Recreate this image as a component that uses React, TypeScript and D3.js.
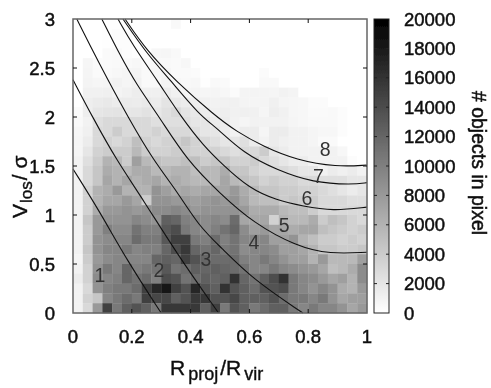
import * as d3 from 'd3';

const WIDTH = 491;
const HEIGHT = 388;
const FONT = '"Liberation Sans", sans-serif';

// objects per pixel in thousands, top row is V = 3
const counts: number[][] = [
  [0,0,0,0.1,0.1,0.1,0,0,0,0,0.5,0,0,0,0,0,0,0,0,0,0,0,0,0,0,0,0,0,0,0],
  [0,0,0,0.1,0.2,0.2,0,0,0,0,0,0,0,0,0,0,0,0,0,0,0,0,0,0,0,0,0,0,0,0],
  [0,0,0,0.1,0.2,0.2,0.1,0,0,0,0,0,0,0,0,0,0,0,0,0,0,0,0,0,0,0,0,0,0,0],
  [0,0,0,0.4,0.5,0.2,0.1,0.1,0.6,0.7,0.5,0,0,0,0,0,0,0,0,0,0,0,0,0,0,0,0,0,0,0],
  [0,0.7,0.3,0.4,0.5,0.5,0.6,0.4,0.5,0.5,0.4,0.6,0,0,0,0,0,0,0,0,0,0,0,0,0,0,0,0,0,0],
  [0,0.8,0.4,0.5,0.6,0.8,0.9,0.5,0.6,0.7,0.4,0.4,0.3,0,0,0,0,0,0,0.3,0,0,0,0,0,0,0,0,0,0],
  [0,0.9,0.7,0.8,1,0.8,1.1,0.5,0.5,0.9,0.6,0.5,0.6,0.1,0.5,0.4,0,0,0,0.5,0.5,0,0,0,0,0,0,0,0,0],
  [0,1.1,1.1,1.2,0.9,1.1,1.4,1.2,1.2,1.5,1.1,0.8,0.9,0.7,0.8,0.6,0.3,0.9,0.9,0.9,0.8,1,0.9,0,0,0,0,0,0,0],
  [0,1.3,1.6,1.7,1.5,1.6,1.5,1.7,1.5,2.1,1.7,1.5,1.3,1.1,1,1.1,1.1,0.9,0.8,0.9,1.2,0.8,0.7,0.6,0.3,0.3,0,0,0,0],
  [0.3,1.3,2,2.1,2.2,1.9,2,2.3,1.9,2.4,3,2.1,1.7,1.5,1.2,1.3,1.1,1.2,1.1,0.8,1.3,1.1,0.7,0.6,0.4,0.4,0.5,0.2,0,0],
  [0.5,1,2.5,3,3,3,3,3,2.5,2.5,2.5,2.5,2,2,1.5,1.5,1,0.8,1,1,1,1,0.8,0.6,0.5,0.5,0.5,0.2,0,0],
  [0.7,1.2,3,3,4,3,3,3,3.5,3,3,3,2.5,2,2,1.5,1,1.5,1.5,0.8,1.5,1.5,1,1,0.8,0.6,0.6,0.2,0,0],
  [0.8,1.5,3,3.5,3,3.5,5,3.5,3,3.5,3.5,4.5,3.5,3,2.5,2,2,2.5,1.5,1,1.5,1.2,1,1,0.8,0.4,0.4,0,0,0],
  [0.8,2,3.5,4,4,4,5.5,4,3.5,3.5,4,4,3.5,3.5,3.5,3,2.5,3,3,4,2,1.5,1,1,1,1,1,0.6,0,0],
  [1,2.5,4,6,5.5,4,7.5,5.5,5,4.5,4.5,5,5,4,4.5,4.5,3.5,3.5,4,3,2.5,2,1.5,1.5,1,1,1,1,0.2,0],
  [1,3,4.5,6.5,6,5.5,6.5,6.5,5.5,5.5,6,6,5,5.5,5.5,6.5,4.5,4.5,3.5,3,3,3,2.5,2,2,1,1.5,1.2,1.5,1],
  [1,3,4.5,7,6,7,6,6.5,7,6,6.5,6,5.5,5.5,5.5,7,5.5,5,4.5,3.5,4,3.5,3.5,3,3,2.5,2.5,2.5,2,2],
  [1,3.5,6,6.5,8,6,6,6,8.5,7.5,6.5,7,6.5,7,7,7,8,6.5,5.5,4.5,4.5,4,4,3.5,3.5,3,2.5,2,1.5,2],
  [1,3.5,6,7,7,8,7,4,8.5,8.5,8,8,7.5,8,8.5,8,8.5,7,5.5,5,5,4,4.5,4,4,3,3,3,2.5,2.5],
  [1,3.5,6.5,8,8,8.5,8,8.5,9,9,9.5,9,8,8.5,8.5,8.5,8.5,8,6.5,6.5,6.5,5.5,5,5,4,3,3,3,3,3],
  [1,4.5,8,8.5,8.5,8.5,9.5,9,8.5,12.5,12,10,9.5,9,9.5,9,11.5,7,7,7,3.5,6,5.5,5.5,6.5,4,5,4.5,3.5,3],
  [1,4,8,10,9,9,11,10,10,13,14,10.5,9.5,9,10,11,12,9,7.5,8,7,7,6.5,7,7,5,4.5,4,3.5,4],
  [1,4,8.5,9,9.5,9.5,11.5,10.5,10.5,13,15,15,10.5,10,11.5,10,11,9.5,9.5,9.5,7.5,7.5,8.5,6,5,4,4,3.5,4,3.5],
  [1,4.5,8.5,9.5,9.5,10.5,9.5,10,10,12,14,15.5,12,11,12,10.5,11,9,9.5,9.5,9,7.5,7.5,7,6,4.5,4.5,4,4,4.5],
  [0.8,4,8,9,9.5,9.5,9.5,9.5,12,12.5,12,15,13.5,12,11.5,11.5,11.5,10,9.5,10.5,9.5,8.5,7.5,7.5,6,8,5.5,5.5,5.5,7.5],
  [1,3.5,8.5,10.5,9.5,12,10,10.5,11,13,11,11.5,12.5,12,12.5,12,11.5,11,9.5,9.5,10.5,9.5,9,8.5,8,7,5,5.5,6.5,9],
  [1.5,3.5,9,9.5,10,12,11,11.5,10,14,13.5,11,11.5,12.5,12,12.5,16,12,11,12.5,14,16,10.5,9.5,9,8,7,7.5,6,9],
  [1,3,8.5,10,10.5,10.5,11.5,15,17,18.5,15,13.5,17,13.5,12.5,16,13.5,12.5,11.5,13.5,13.5,14,10.5,9.5,8.5,9.5,8.5,6.5,6,8],
  [1,3.5,4.5,9.5,10.5,11.5,10.5,15,14.5,14.5,12.5,13.5,15.5,15.5,13.5,13.5,14.5,12.5,12.5,12.5,13.5,11.5,10.5,10.5,9.5,10.5,8.5,7,7.5,7.5],
  [1,3,8,15,10.5,12.5,13.5,12.5,10.5,15.5,15.5,15.5,15.5,12.5,15,10.5,13.5,12.5,10.5,11.5,12.5,12.5,10.5,9.5,10.5,9.5,9.5,8.5,7,8],
];

// separation curves, R and V
const curve1R = [0, 0.092, 0.183, 0.3];
const curve1V = [1.47, 1.03, 0.54, 0];
const curve2R = [0, 0.068, 0.148, 0.24, 0.352, 0.495];
const curve2V = [2.38, 1.99, 1.56, 1.15, 0.61, 0];
const curve3R = [0.013, 0.058, 0.115, 0.187, 0.273, 0.352, 0.43, 0.5, 0.613, 0.782];
const curve3V = [3, 2.73, 2.4, 2.0, 1.56, 1.25, 0.88, 0.68, 0.34, 0];
const curve4R = [0.098, 0.16, 0.216, 0.296, 0.387, 0.5, 0.613, 0.76, 0.874, 1];
const curve4V = [3, 2.63, 2.33, 1.99, 1.56, 1.22, 0.92, 0.68, 0.6, 0.62];
const curve5R = [0.153, 0.204, 0.285, 0.37, 0.443, 0.51, 0.6, 0.693, 0.782, 0.884, 1];
const curve5V = [3, 2.73, 2.38, 1.99, 1.71, 1.51, 1.27, 1.15, 1.09, 1.04, 1.08];
const curve6R = [0.17, 0.25, 0.33, 0.43, 0.489, 0.58, 0.693, 0.816, 0.95, 1];
const curve6V = [3, 2.65, 2.38, 2.02, 1.89, 1.63, 1.46, 1.33, 1.31, 1.33];
const curve7R = [0.177, 0.25, 0.352, 0.48, 0.557, 0.647, 0.76, 0.897, 1];
const curve7V = [3, 2.68, 2.36, 2.02, 1.85, 1.7, 1.56, 1.49, 1.51];

const curves = [
  [curve1R, curve1V],
  [curve2R, curve2V],
  [curve3R, curve3V],
  [curve4R, curve4V],
  [curve5R, curve5V],
  [curve6R, curve6V],
  [curve7R, curve7V],
];

const regionNames = ['1', '2', '3', '4', '5', '6', '7', '8'];
const regionR = [0.092, 0.292, 0.452, 0.615, 0.718, 0.796, 0.835, 0.858];
const regionV = [0.39, 0.44, 0.55, 0.72, 0.9, 1.17, 1.4, 1.67];

const xTicks = [0, 0.2, 0.4, 0.6, 0.8, 1];
const yTicks = [0, 0.5, 1, 1.5, 2, 2.5, 3];
const barTicks = [0, 2000, 4000, 6000, 8000, 10000, 12000, 14000, 16000, 18000, 20000];

const plot = { left: 73, right: 367, top: 19, bottom: 313 };
const bar = { left: 374, right: 389 };

export default function App() {
  const x = d3.scaleLinear().domain([0, 1]).range([plot.left, plot.right]);
  const y = d3.scaleLinear().domain([0, 3]).range([plot.bottom, plot.top]);
  const colBand = d3.scaleBand<number>().domain(d3.range(30)).range([plot.left, plot.right]);
  const rowBand = d3.scaleBand<number>().domain(d3.range(30)).range([plot.top, plot.bottom]);
  const gray = d3.scaleLinear<string>().domain([0, 20]).range(['#ffffff', '#000000']);
  const barY = d3.scaleLinear().domain([0, 20000]).range([plot.bottom, plot.top]);
  const line = d3.line<number>()
    .x((d) => x(d))
    .curve(d3.curveBasis);

  const tick = 4;
  return (
    <svg
      width={WIDTH}
      height={HEIGHT}
      style={{ position: 'absolute', left: 0, top: 0, background: '#fff' }}
      fontFamily={FONT}
    >
      <defs>
        <linearGradient id="barFill" x1="0" y1="1" x2="0" y2="0">
          <stop offset="0" stopColor="#fff" />
          <stop offset="1" stopColor="#000" />
        </linearGradient>
        <filter id="soft" x="-5%" y="-5%" width="110%" height="110%">
          <feGaussianBlur stdDeviation="0.4" />
        </filter>
      </defs>
      <g filter="url(#soft)">
        {counts.map((row, r) =>
          row.map((v, c) => (
            <rect
              key={`${r}-${c}`}
              x={colBand(c)}
              y={rowBand(r)}
              width={colBand.bandwidth() + 0.3}
              height={rowBand.bandwidth() + 0.3}
              fill={gray(v)}
            />
          )),
        )}
        {curves.map(([rs, vs], i) => (
          <path
            key={i}
            d={line.y((_, k) => y(vs[k]))(rs) ?? ''}
            fill="none"
            stroke="#111"
            strokeWidth={1.1}
          />
        ))}
        {regionNames.map((n, i) => (
          <text
            key={n}
            x={x(regionR[i])}
            y={y(regionV[i])}
            textAnchor="middle"
            dominantBaseline="central"
            fontSize={19.5}
            fill="#333"
          >
            {n}
          </text>
        ))}
        <rect
          x={plot.left}
          y={plot.top}
          width={plot.right - plot.left}
          height={plot.bottom - plot.top}
          fill="none"
          stroke="#666"
          strokeWidth={1.5}
        />
        {xTicks.slice(1, -1).map((t) => (
          <g key={t} stroke="#111" strokeWidth={1}>
            <line x1={x(t)} x2={x(t)} y1={plot.bottom} y2={plot.bottom - tick} />
            <line x1={x(t)} x2={x(t)} y1={plot.top} y2={plot.top + tick} />
          </g>
        ))}
        {yTicks.slice(1, -1).map((t) => (
          <g key={t} stroke="#111" strokeWidth={1}>
            <line x1={plot.left} x2={plot.left + tick} y1={y(t)} y2={y(t)} />
            <line x1={plot.right} x2={plot.right - tick} y1={y(t)} y2={y(t)} />
          </g>
        ))}
        <rect
          x={bar.left}
          y={plot.top}
          width={bar.right - bar.left}
          height={plot.bottom - plot.top}
          fill="url(#barFill)"
          stroke="#222"
          strokeWidth={1}
        />
        {barTicks.slice(1, -1).map((t) => (
          <g key={t} stroke="#222" strokeWidth={1}>
            <line x1={bar.left} x2={bar.left + 3} y1={barY(t)} y2={barY(t)} />
            <line x1={bar.right} x2={bar.right - 3} y1={barY(t)} y2={barY(t)} />
          </g>
        ))}
        <g fill="#111" fontSize={18.5} stroke="#111" strokeWidth={0.5}>
          {xTicks.map((t) => (
            <text key={t} x={x(t)} y={343} textAnchor="middle">
              {t}
            </text>
          ))}
          {yTicks.map((t) => (
            <text key={t} x={55} y={y(t)} textAnchor="end" dominantBaseline="central">
              {t}
            </text>
          ))}
          {barTicks.map((t) => (
            <text key={t} x={404} y={barY(t)} dominantBaseline="central">
              {t}
            </text>
          ))}
        </g>
        <text x={170} y={375} fontSize={21} fill="#111" stroke="#111" strokeWidth={0.4}>
          R
          <tspan dx={3} dy={5} fontSize={18}>proj</tspan>
          <tspan dx={2} dy={-5} fontSize={21}>/R</tspan>
          <tspan dx={3} dy={5} fontSize={18}>vir</tspan>
        </text>
        <text
          transform="translate(27,218) rotate(-90)"
          fontSize={21}
          fill="#111"
          stroke="#111"
          strokeWidth={0.4}
        >
          V
          <tspan dx={1} dy={5} fontSize={17}>los</tspan>
          <tspan dx={1} dy={-5} fontSize={21}>/ σ</tspan>
        </text>
        <text
          transform="translate(472,163) rotate(90)"
          textAnchor="middle"
          fontSize={19.5}
          fill="#111"
          stroke="#111"
          strokeWidth={0.5}
        >
          # objects in pixel
        </text>
      </g>
    </svg>
  );
}
